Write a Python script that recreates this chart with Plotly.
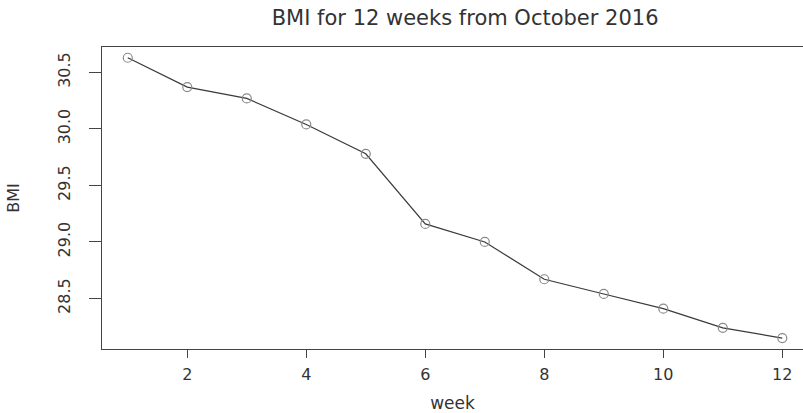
import plotly.graph_objects as go

# Weekly BMI readings, 12 weeks starting October 2016
weeks = [1, 2, 3, 4, 5, 6, 7, 8, 9, 10, 11, 12]
bmi = [30.63, 30.37, 30.27, 30.04, 29.78, 29.16, 29.00, 28.67, 28.54, 28.41, 28.24, 28.15]

x_ticks = [2, 4, 6, 8, 10, 12]
y_ticks = [28.5, 29.0, 29.5, 30.0, 30.5]
y_tick_text = ["28.5", "29.0", "29.5", "30.0", "30.5"]

font_family = "DejaVu Sans, Liberation Sans, sans-serif"
ink = "#333333"

fig = go.Figure()
fig.add_trace(go.Scatter(
    x=weeks,
    y=bmi,
    mode="lines+markers",
    line=dict(color="#3a3a3a", width=1.2),
    marker=dict(symbol="circle-open", size=9, color="#8a8a8a",
                line=dict(width=1.2, color="#8a8a8a")),
    showlegend=False,
    hoverinfo="x+y",
))

fig.update_layout(
    width=803,
    height=413,
    margin=dict(l=102, r=0, t=47, b=64),
    paper_bgcolor="white",
    plot_bgcolor="white",
    font=dict(family=font_family, color=ink, size=16),
    title=dict(
        text="BMI for 12 weeks from October 2016",
        x=0.518, xref="paper", xanchor="center",
        y=0.958, yref="container", yanchor="middle",
        font=dict(family=font_family, size=21, color=ink),
    ),
    xaxis=dict(
        range=[0.567, 12.348],
        tickmode="array",
        tickvals=x_ticks,
        ticks="outside",
        ticklen=8,
        tickwidth=1.2,
        tickcolor="#444444",
        showline=True,
        linecolor="#444444",
        linewidth=1.3,
        mirror=True,
        showgrid=False,
        zeroline=False,
        ticklabelstandoff=3,
        tickfont=dict(size=16, color=ink),
        title=dict(text="week", font=dict(size=17, color=ink), standoff=15),
    ),
    yaxis=dict(
        range=[28.053, 30.725],
        tickmode="array",
        tickvals=y_ticks,
        ticktext=y_tick_text,
        tickangle=-90,
        ticks="outside",
        ticklen=12,
        tickwidth=1.2,
        tickcolor="#444444",
        showline=True,
        linecolor="#444444",
        linewidth=1.3,
        mirror=False,
        showgrid=False,
        zeroline=False,
        ticklabelstandoff=12,
        tickfont=dict(size=16, color=ink),
        title=dict(text="BMI", font=dict(size=16, color=ink), standoff=31),
    ),
)

fig.write_html("out.html")
